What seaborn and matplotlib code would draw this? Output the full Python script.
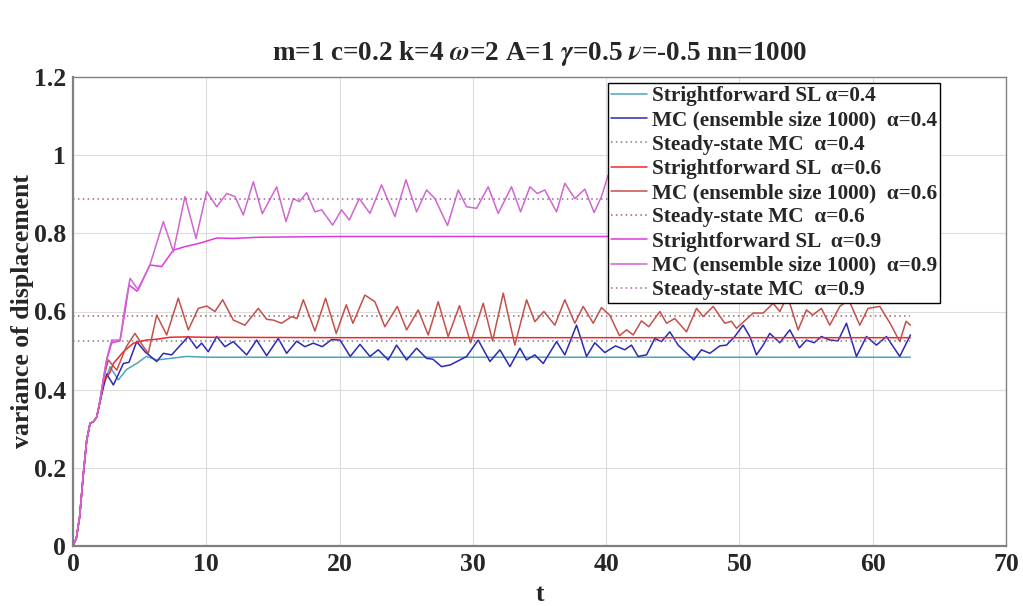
import numpy as np
import pandas as pd
import matplotlib
matplotlib.use("Agg")
import matplotlib.pyplot as plt
import seaborn as sns

# ---------------- data ----------------
t_end = 62.83

t_sl04 = [0, 0.25, 0.5, 0.78, 1.03, 1.28, 1.53, 1.78, 2.03, 2.3, 2.78, 3.4, 4.03, 4.78, 5.5, 6.3, 7.3, 8.5, 10, 15, 20, 30, 40, 50, 62.83]
v_sl04 = [0, 0.02, 0.075, 0.186, 0.271, 0.314, 0.318, 0.33, 0.37, 0.41, 0.459, 0.425, 0.452, 0.467, 0.485, 0.476, 0.48, 0.485, 0.483, 0.483, 0.483, 0.483, 0.483, 0.483, 0.483]

t_mc04 = [0, 0.25, 0.5, 0.78, 1.03, 1.28, 1.53, 1.78, 2.03, 2.3, 2.53, 3.03, 3.78, 4.2, 4.78, 5.4, 6.28, 6.78, 7.4, 8.65, 9.28, 9.65, 10.15, 10.78, 11.4, 12.03, 13.03, 13.78, 14.53, 15.4, 16.03, 16.78, 17.4, 18.03, 18.7, 19.4, 20.03, 20.8, 21.53, 22.28, 22.9, 23.65, 24.28, 25.03, 25.78, 26.53, 27.0, 27.65, 28.28, 29.03, 29.53, 30.4, 31.28, 32.03, 32.78, 33.53, 34.03, 34.65, 35.28, 36.28, 36.9, 37.78, 38.53, 39.15, 39.9, 40.7, 41.4, 41.9, 42.4, 43.03, 43.65, 44.15, 44.78, 45.4, 46.58, 47.15, 47.78, 48.53, 49.03, 49.65, 50.28, 50.78, 51.28, 51.78, 52.28, 53.03, 53.78, 54.5, 55.03, 55.6, 56.15, 56.78, 57.4, 58.03, 58.78, 59.53, 60.28, 61.03, 62.03, 62.83]
v_mc04 = [0, 0.02, 0.075, 0.186, 0.271, 0.314, 0.318, 0.33, 0.37, 0.41, 0.44, 0.412, 0.467, 0.47, 0.523, 0.497, 0.472, 0.493, 0.489, 0.536, 0.506, 0.519, 0.497, 0.536, 0.51, 0.523, 0.489, 0.527, 0.487, 0.531, 0.493, 0.524, 0.51, 0.519, 0.51, 0.528, 0.527, 0.485, 0.516, 0.485, 0.502, 0.476, 0.514, 0.476, 0.506, 0.48, 0.478, 0.459, 0.463, 0.476, 0.485, 0.527, 0.472, 0.502, 0.459, 0.506, 0.476, 0.489, 0.467, 0.523, 0.489, 0.565, 0.485, 0.52, 0.495, 0.512, 0.502, 0.514, 0.485, 0.489, 0.531, 0.523, 0.548, 0.514, 0.476, 0.502, 0.493, 0.512, 0.514, 0.536, 0.565, 0.536, 0.489, 0.514, 0.544, 0.52, 0.553, 0.507, 0.527, 0.52, 0.536, 0.527, 0.525, 0.57, 0.485, 0.536, 0.514, 0.536, 0.485, 0.54]

t_sl06 = [0, 0.25, 0.5, 0.78, 1.03, 1.28, 1.53, 1.78, 2.03, 2.3, 2.78, 3.03, 3.78, 4.53, 5.5, 6.28, 7.28, 8.5, 10, 20, 40, 62.83]
v_sl06 = [0, 0.02, 0.075, 0.186, 0.271, 0.314, 0.318, 0.33, 0.37, 0.42, 0.445, 0.467, 0.497, 0.519, 0.527, 0.529, 0.534, 0.535, 0.534, 0.533, 0.533, 0.533]

t_mc06 = [0, 0.25, 0.5, 0.78, 1.03, 1.28, 1.53, 1.78, 2.03, 2.3, 2.65, 3.28, 4.0, 4.65, 5.28, 5.65, 6.28, 7.03, 7.9, 8.65, 9.4, 10.03, 10.65, 11.23, 12.03, 12.9, 13.9, 14.53, 15.03, 15.65, 16.4, 16.8, 17.28, 18.15, 18.95, 19.75, 20.5, 21.0, 21.9, 22.65, 23.4, 24.33, 25.03, 25.9, 26.65, 27.4, 28.15, 29.0, 29.83, 30.78, 31.48, 32.28, 33.15, 34.03, 34.65, 35.33, 36.15, 36.9, 37.65, 38.28, 39.03, 39.65, 40.28, 41.0, 41.53, 42.03, 42.65, 43.2, 44.03, 44.53, 45.15, 46.03, 46.78, 47.28, 48.03, 48.9, 49.4, 49.78, 51.03, 51.78, 52.53, 53.03, 53.6, 54.4, 55.03, 55.5, 56.15, 56.78, 57.53, 58.2, 59.03, 59.65, 60.53, 61.3, 62.03, 62.5, 62.83]
v_mc06 = [0, 0.02, 0.075, 0.186, 0.271, 0.314, 0.318, 0.33, 0.37, 0.43, 0.476, 0.45, 0.51, 0.544, 0.51, 0.493, 0.591, 0.54, 0.634, 0.553, 0.608, 0.614, 0.6, 0.63, 0.578, 0.565, 0.608, 0.58, 0.578, 0.57, 0.587, 0.582, 0.63, 0.55, 0.634, 0.544, 0.617, 0.57, 0.642, 0.625, 0.561, 0.613, 0.553, 0.604, 0.54, 0.625, 0.536, 0.615, 0.52, 0.621, 0.525, 0.647, 0.514, 0.63, 0.574, 0.6, 0.565, 0.63, 0.57, 0.613, 0.57, 0.61, 0.59, 0.538, 0.553, 0.54, 0.576, 0.561, 0.6, 0.57, 0.582, 0.548, 0.608, 0.587, 0.613, 0.57, 0.575, 0.557, 0.596, 0.596, 0.621, 0.6, 0.64, 0.553, 0.604, 0.591, 0.608, 0.565, 0.613, 0.63, 0.565, 0.608, 0.613, 0.57, 0.523, 0.575, 0.565]

t_sl09 = [0, 0.25, 0.5, 0.78, 1.03, 1.28, 1.53, 1.78, 2.03, 2.28, 2.53, 2.9, 3.53, 3.9, 4.2, 4.8, 5.78, 6.65, 7.53, 8.4, 9.53, 10.78, 12, 14, 20, 30, 62.83]
v_sl09 = [0, 0.02, 0.075, 0.186, 0.271, 0.314, 0.318, 0.33, 0.374, 0.425, 0.476, 0.52, 0.525, 0.6, 0.668, 0.652, 0.719, 0.715, 0.757, 0.766, 0.775, 0.788, 0.787, 0.79, 0.792, 0.792, 0.792]

t_mc09 = [0, 0.25, 0.5, 0.78, 1.03, 1.28, 1.53, 1.78, 2.03, 2.28, 2.53, 2.9, 3.53, 3.9, 4.28, 4.9, 5.78, 6.78, 7.53, 8.4, 9.23, 10.03, 10.78, 11.53, 12.15, 12.78, 13.53, 14.2, 15.28, 15.98, 16.53, 16.98, 17.53, 18.15, 18.66, 19.48, 20.15, 20.73, 21.48, 22.28, 23.15, 24.15, 24.98, 25.78, 26.53, 27.15, 28.1, 28.9, 29.53, 30.28, 31.15, 31.9, 32.9, 33.58, 34.28, 34.83, 35.4, 36.28, 36.9, 37.65, 38.4, 39.1, 39.65, 40.15, 41, 42, 43, 44, 45, 46, 47, 48, 49, 50, 51, 52, 53, 54, 55, 56, 57, 58, 59, 60, 61, 62, 62.83]
v_mc09 = [0, 0.02, 0.075, 0.186, 0.271, 0.314, 0.318, 0.33, 0.374, 0.43, 0.48, 0.527, 0.527, 0.612, 0.685, 0.655, 0.72, 0.83, 0.753, 0.894, 0.787, 0.907, 0.868, 0.902, 0.894, 0.847, 0.932, 0.85, 0.919, 0.83, 0.889, 0.881, 0.904, 0.855, 0.86, 0.821, 0.86, 0.834, 0.889, 0.851, 0.924, 0.843, 0.937, 0.855, 0.911, 0.889, 0.82, 0.911, 0.868, 0.864, 0.919, 0.851, 0.919, 0.855, 0.919, 0.902, 0.911, 0.855, 0.928, 0.889, 0.913, 0.853, 0.894, 0.949, 0.9, 0.88, 0.92, 0.86, 0.91, 0.87, 0.93, 0.86, 0.9, 0.88, 0.92, 0.85, 0.9, 0.87, 0.92, 0.86, 0.91, 0.88, 0.93, 0.86, 0.9, 0.87, 0.89]

steady_t = [0, t_end]
steady_04 = 0.525
steady_06 = 0.588
steady_09 = 0.888

labels = [
    "Strightforward SL \u03b1=0.4",
    "MC (ensemble size 1000)  \u03b1=0.4",
    "Steady-state MC  \u03b1=0.4",
    "Strightforward SL  \u03b1=0.6",
    "MC (ensemble size 1000)  \u03b1=0.6",
    "Steady-state MC  \u03b1=0.6",
    "Strightforward SL  \u03b1=0.9",
    "MC (ensemble size 1000)  \u03b1=0.9",
    "Steady-state MC  \u03b1=0.9",
]
title = r"m=1 c=0.2 k=4 $\omega$=2 A=1 $\gamma$=0.5 $\nu$=-0.5 nn=1000"
x_ticks = [0, 10, 20, 30, 40, 50, 60, 70]
y_ticks = [0, 0.2, 0.4, 0.6, 0.8, 1.0, 1.2]
y_ticklabels = ["0", "0.2", "0.4", "0.6", "0.8", "1", "1.2"]

# ---------------- style ----------------
sns.set_style("whitegrid")
plt.rcParams["font.family"] = ["Liberation Serif", "DejaVu Serif"]
plt.rcParams["font.weight"] = "bold"
plt.rcParams["mathtext.fontset"] = "stix"

fig = plt.figure(figsize=(10.23, 6.06), dpi=100)
ax = fig.add_axes([73 / 1023, 1 - 546 / 606, (1006 - 73) / 1023, (546 - 77) / 606])

colors = {
    "sl04": "#4da6bd",
    "mc04": "#2a2ab4",
    "st04": "#7a7a9a",
    "sl06": "#f02828",
    "mc06": "#c4504a",
    "st06": "#a06060",
    "sl09": "#e038e0",
    "mc09": "#d066d0",
    "st09": "#a0609a",
}
lw = 1.1
dot = (0, (1, 2.2))

series = [
    (t_sl04, v_sl04, "sl04", "-"),
    (t_mc04, v_mc04, "mc04", "-"),
    (steady_t, [steady_04, steady_04], "st04", dot),
    (t_sl06, v_sl06, "sl06", "-"),
    (t_mc06, v_mc06, "mc06", "-"),
    (steady_t, [steady_06, steady_06], "st06", dot),
    (t_sl09, v_sl09, "sl09", "-"),
    (t_mc09, v_mc09, "mc09", "-"),
    (steady_t, [steady_09, steady_09], "st09", dot),
]
for (tt, vv, key, ls), lab in zip(series, labels):
    sns.lineplot(x=tt, y=vv, ax=ax, color=colors[key], lw=lw, linestyle=ls,
                 label=lab, sort=False, estimator=None)

ax.set_xlim(0, 70)
ax.set_ylim(0, 1.2)
ax.set_xticks(x_ticks)
ax.set_yticks(y_ticks)
ax.set_yticklabels(y_ticklabels)
ax.tick_params(axis="both", labelsize=18.5, length=0, pad=5)
for lbl in ax.get_xticklabels() + ax.get_yticklabels():
    lbl.set_fontweight("bold")
ax.grid(True, color="#dcdcdc", lw=0.8)
for s in ax.spines.values():
    s.set_color("#808080")
    s.set_linewidth(1.0)
ax.spines["left"].set_linewidth(1.6)
ax.spines["bottom"].set_linewidth(1.6)

ax.set_xlabel("t", fontsize=18.5, fontweight="bold", labelpad=5)
ax.set_ylabel("variance of displacement", fontsize=18.5, fontweight="bold", labelpad=0)
ax.set_title(title, fontsize=19.5, fontweight="bold", pad=12)

leg = ax.legend(loc="upper right", bbox_to_anchor=((940 - 73) / 933, (546 - 83) / 469),
                fontsize=15.3, frameon=True, fancybox=False, framealpha=1,
                edgecolor="black", handlelength=1.7, handletextpad=0.2,
                borderpad=0.15, labelspacing=0.2, borderaxespad=0)
leg.get_frame().set_linewidth(1.0)
for txt in leg.get_texts():
    txt.set_fontweight("bold")

fig.savefig("out.png", dpi=100)
